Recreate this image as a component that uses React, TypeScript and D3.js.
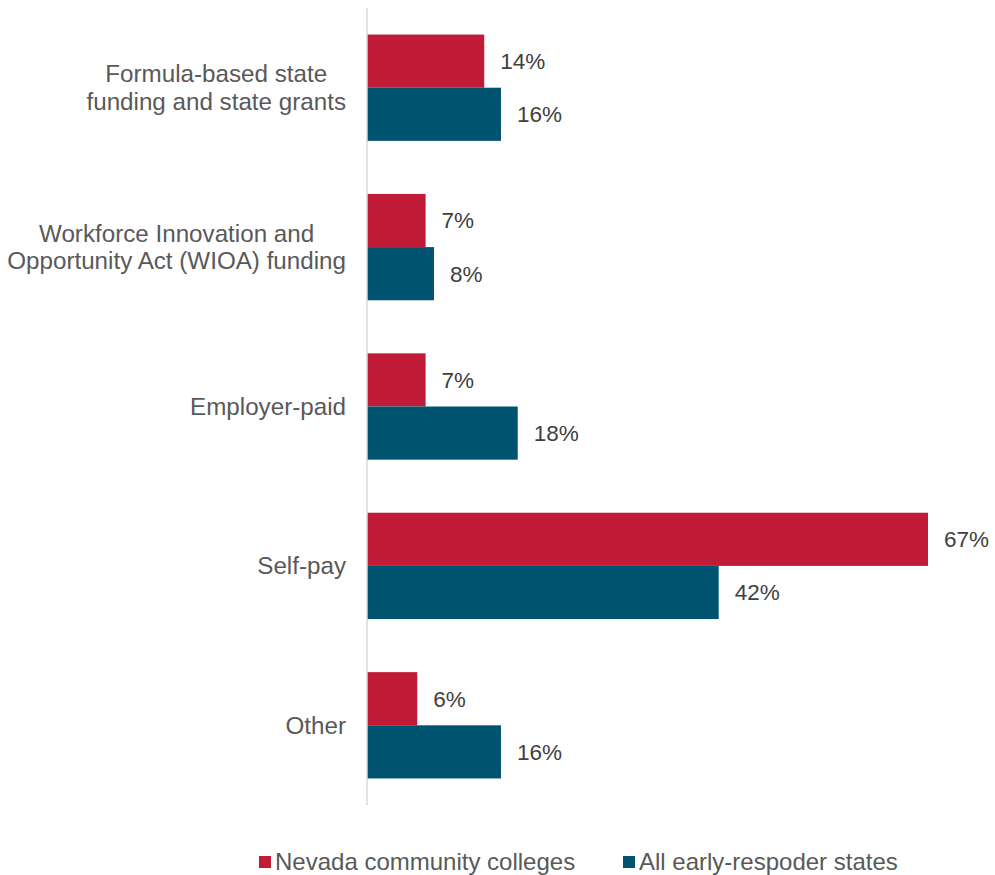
import React, { useEffect, useRef } from "react";
import * as d3 from "d3";

const categories = [
  ["Formula-based state", "funding and state grants"],
  ["Workforce Innovation and", "Opportunity Act (WIOA) funding"],
  ["Employer-paid"],
  ["Self-pay"],
  ["Other"],
];
const nevada = [14, 7, 7, 67, 6];
const allStates = [16, 8, 18, 42, 16];
const seriesNames = ["Nevada community colleges", "All early-respoder states"];
const colors = ["#C01C38", "#00546F"];

const W = 995;
const H = 875;

export default function App() {
  const ref = useRef<SVGSVGElement>(null);
  useEffect(() => {
    const svg = d3.select(ref.current);
    svg.selectAll("*").remove();
    const font = "'Liberation Sans', Arial, sans-serif";
    const fsVal = 22.5;
    const fsCat = 24.2;
    const fsLeg = 24;
    const x0 = 367;
    const x = d3.scaleLinear().domain([0, 67]).range([x0, 928]);
    const y = d3.scaleBand<number>().domain(d3.range(categories.length)).range([8, 805]).paddingInner(0.333).paddingOuter(0.1665);
    const series = [nevada, allStates];
    const bh = y.bandwidth() / 2;

    series.forEach((vals, s) => {
      svg.append("g").selectAll("rect").data(vals).join("rect")
        .attr("x", x0).attr("y", (_d, i) => (y(i) as number) + s * bh)
        .attr("width", (d) => x(d) - x0).attr("height", bh)
        .attr("fill", colors[s]);
      svg.append("g").selectAll("text").data(vals).join("text")
        .attr("x", (d) => x(d) + 16).attr("y", (_d, i) => (y(i) as number) + s * bh + bh / 2)
        .attr("dy", "0.35em").attr("font-family", font).attr("font-size", fsVal).attr("fill", "#404040")
        .text((d) => d + "%");
    });

    svg.append("line").attr("x1", x0).attr("x2", x0).attr("y1", 8).attr("y2", 805)
      .attr("stroke", "#d9d9d9").attr("stroke-width", 1.5);

    categories.forEach((lines, i) => {
      const g = svg.append("g");
      const cy = (y(i) as number) + y.bandwidth() / 2;
      const lh = 27.5;
      const texts = lines.map((l, k) =>
        g.append("text").attr("y", cy + (k - (lines.length - 1) / 2) * lh).attr("dy", "0.35em")
          .attr("font-family", font).attr("font-size", fsCat).attr("fill", "#595959")
          .attr("text-anchor", "middle").text(l)
      );
      const maxW = d3.max(texts, (t) => (t.node() as SVGTextElement).getComputedTextLength()) || 0;
      texts.forEach((t) => t.attr("x", 346 - maxW / 2));
    });

    const positions = [259, 623];
    seriesNames.forEach((n, s) => {
      const lx = positions[s];
      svg.append("rect").attr("x", lx).attr("y", 856).attr("width", 12).attr("height", 12).attr("fill", colors[s]);
      svg.append("text").attr("x", lx + 16).attr("y", 862).attr("dy", "0.35em")
        .attr("font-family", font).attr("font-size", fsLeg).attr("fill", "#595959").text(n);
    });
  }, []);
  return <svg ref={ref} width={W} height={H} style={{ position: "absolute", left: 0, top: 0, background: "#fff" }} />;
}
